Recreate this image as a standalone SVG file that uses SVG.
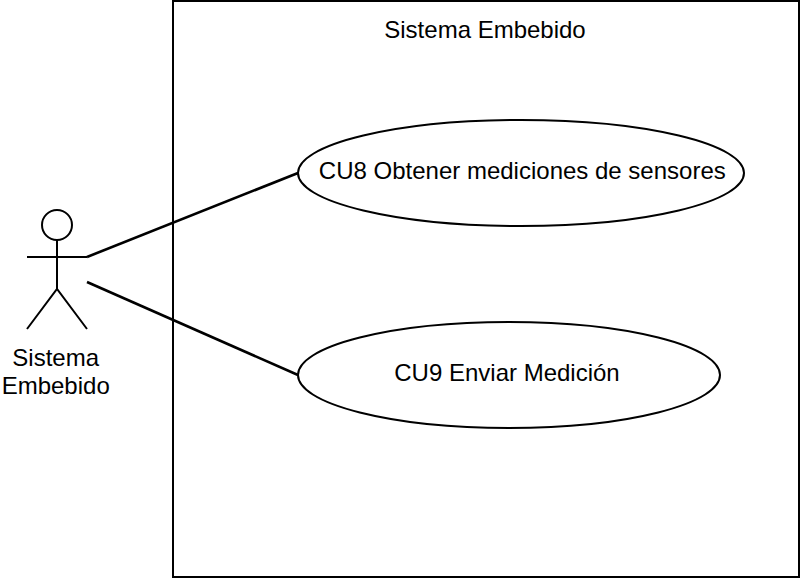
<svg xmlns="http://www.w3.org/2000/svg" width="800" height="578" viewBox="0 0 800 578">
<style>
.s{fill:none;stroke:#000;stroke-width:2}
.c{fill:none;stroke:#000;stroke-width:2.6}
.e{fill:#fff;stroke:#000;stroke-width:2}
text{font-family:"Liberation Sans",Arial,sans-serif;font-size:24px;fill:#000;text-anchor:middle}
</style>
<rect width="800" height="578" fill="#fff"/>
<g id="system"><rect class="s" x="173" y="1" width="626" height="576"/><text x="485" y="38">Sistema Embebido</text></g>
<g id="connectors"><path class="c" d="M87 257L298 173"/><path class="c" d="M87 282L298 375"/></g>
<g id="actor"><circle class="e" cx="57" cy="225" r="15"/><path class="s" d="M57 240V289M27 257H87M27 329L57 289L87 329"/><text x="55.7" y="366">Sistema</text><text x="55.7" y="394">Embebido</text></g>
<g id="cu8"><ellipse class="e" cx="521" cy="173" rx="223" ry="53"/><text x="522.3" y="179">CU8 Obtener mediciones de sensores</text></g>
<g id="cu9"><ellipse class="e" cx="509" cy="375" rx="211" ry="53"/><text x="507" y="381">CU9 Enviar Medición</text></g>
</svg>
